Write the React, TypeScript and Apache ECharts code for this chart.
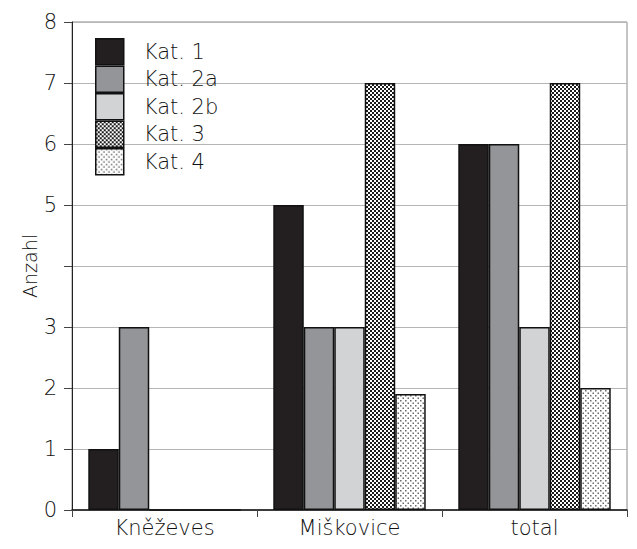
import React, { useEffect, useRef } from "react";
import * as echarts from "echarts";

const categories = ["Kněževes", "Miškovice", "total"];
const seriesNames = ["Kat. 1", "Kat. 2a", "Kat. 2b", "Kat. 3", "Kat. 4"];
const kat1 = [1, 5, 6];
const kat2a = [3, 3, 6];
const kat2b = [0, 3, 3];
const kat3 = [0, 7, 7];
const kat4 = [0, 1.9, 2];
const yTicks = [0, 1, 2, 3, 4, 5, 6, 7, 8];
const hiddenYLabels = [4];

const FONT = "'DejaVu Sans', sans-serif";
const TEXT = "#111111";

function makePattern(size: number, scale: number, draw: (ctx: CanvasRenderingContext2D, s: number) => void) {
  const c = document.createElement("canvas");
  c.width = size * scale;
  c.height = size * scale;
  const ctx = c.getContext("2d")!;
  ctx.fillStyle = "#ffffff";
  ctx.fillRect(0, 0, c.width, c.height);
  draw(ctx, c.width);
  return { image: c.toDataURL(), repeat: "repeat", imageWidth: size, imageHeight: size };
}

export default function App() {
  const ref = useRef<HTMLDivElement>(null);
  useEffect(() => {
    document.body.style.margin = "0";
    if (!ref.current) return;
    const chart = echarts.init(ref.current, null, { renderer: "svg" });
    const pat3 = makePattern(4, 2, (ctx, w) => {
      ctx.fillStyle = "#1c1c1c";
      ctx.fillRect(0, 0, w / 2, w / 2);
      ctx.fillRect(w / 2, w / 2, w / 2, w / 2);
    });
    const pat4 = makePattern(5, 2, (ctx) => {
      ctx.fillStyle = "#6a6a6a";
      ctx.fillRect(0, 0, 3, 3);
      ctx.fillRect(5, 5, 3, 3);
    });
    const colors: any[] = ["#231f20", "#939598", "#d1d3d4", pat3, pat4];
    const values = [kat1, kat2a, kat2b, kat3, kat4];
    chart.setOption({
      animation: false,
      textStyle: { fontFamily: FONT },
      grid: {
        left: 72,
        top: 22,
        right: 10,
        bottom: 39,
        show: true,
        borderColor: "#8a8a8a",
        borderWidth: 1,
      },
      legend: {
        orient: "vertical",
        left: 95,
        top: 38,
        padding: 0,
        itemWidth: 28,
        itemHeight: 26,
        itemGap: 0,
        selectedMode: false,
        icon: "rect",
        itemStyle: { borderColor: "#111", borderWidth: 1.5 },
        textStyle: {
          fontFamily: FONT,
          fontWeight: 200,
          fontSize: 21,
          lineHeight: 22,
          color: TEXT,
          padding: [0, 0, 0, 15],
        },
        data: seriesNames,
      },
      xAxis: {
        type: "category",
        data: categories,
        axisLine: { lineStyle: { color: "#111", width: 1.5 } },
        axisTick: { show: true, length: 7, lineStyle: { color: "#444" } },
        axisLabel: {
          fontFamily: FONT,
          fontWeight: 200,
          fontSize: 21,
          color: TEXT,
          margin: 7,
        },
      },
      yAxis: {
        type: "value",
        min: 0,
        max: 8,
        interval: 1,
        name: "Anzahl",
        nameLocation: "middle",
        nameRotate: 90,
        nameGap: 33,
        nameMoveOverlap: false,
        nameTextStyle: { fontFamily: FONT, fontWeight: 200, fontSize: 19, color: TEXT },
        axisLine: { show: true, lineStyle: { color: "#222", width: 1 } },
        axisTick: { show: true, length: 8, lineStyle: { color: "#444" } },
        axisLabel: {
          fontFamily: FONT,
          fontWeight: 200,
          fontSize: 21,
          color: TEXT,
          margin: 15,
          formatter: (v: number) =>
            yTicks.includes(v) && !hiddenYLabels.includes(v) ? String(v) : "",
        },
        splitLine: { show: true, lineStyle: { color: "#b5b5b5", width: 1 } },
      },
      series: seriesNames.map((name, i) => ({
        name,
        type: "bar",
        data: values[i],
        barGap: "0%",
        barCategoryGap: "17.6%",
        itemStyle: { color: colors[i], borderColor: "#111", borderWidth: 1.5 },
      })),
    });
    return () => chart.dispose();
  }, []);
  return <div ref={ref} style={{ width: 637, height: 549 }} />;
}
